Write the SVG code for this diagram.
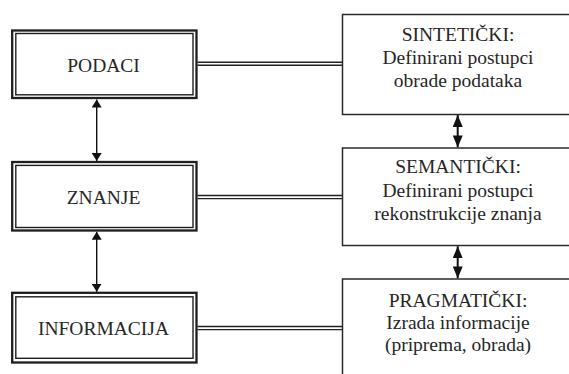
<svg xmlns="http://www.w3.org/2000/svg" width="569" height="374" viewBox="0 0 569 374">
<style>
.bg{fill:#ffffff}
.outer{fill:none;stroke:#1e1e1e;stroke-width:2.3}
.inner{fill:none;stroke:#1e1e1e;stroke-width:1.4}
.rbox{fill:#ffffff;stroke:#2a2a2a;stroke-width:1.5}
.dl{stroke:#222;stroke-width:1.4;fill:none}
.al{stroke:#111;stroke-width:1.4;fill:none}
.ar{stroke:#111;stroke-width:2;fill:none}
text{font-family:'Liberation Serif','Times New Roman','DejaVu Serif',serif;font-size:19.5px;fill:#262626;text-anchor:middle}
</style>
<defs>
<marker id="hs" viewBox="0 0 8 10" refX="8" refY="5" markerWidth="8" markerHeight="10" markerUnits="userSpaceOnUse" orient="auto-start-reverse">
<path d="M0,0 L8,5 L0,10 z" fill="#111"/>
</marker>
<marker id="hl" viewBox="0 0 12 10" refX="12" refY="5" markerWidth="12" markerHeight="10" markerUnits="userSpaceOnUse" orient="auto-start-reverse">
<path d="M0,0 L12,5 L0,10 z" fill="#111"/>
</marker>
</defs>
<rect class="bg" x="0" y="0" width="569" height="374"/>
<g id="connectors">
<line class="dl" x1="197.5" y1="62.3" x2="342" y2="62.3"/>
<line class="dl" x1="197.5" y1="65.3" x2="342" y2="65.3"/>
<line class="dl" x1="197.5" y1="195.5" x2="342" y2="195.5"/>
<line class="dl" x1="197.5" y1="198.6" x2="342" y2="198.6"/>
<line class="dl" x1="197.5" y1="326.5" x2="342" y2="326.5"/>
<line class="dl" x1="197.5" y1="329.6" x2="342" y2="329.6"/>
<line class="al" x1="96.7" y1="99.5" x2="96.7" y2="161" marker-start="url(#hs)" marker-end="url(#hs)"/>
<line class="al" x1="96.7" y1="231.8" x2="96.7" y2="291.7" marker-start="url(#hs)" marker-end="url(#hs)"/>
<line class="ar" x1="457.7" y1="115" x2="457.7" y2="147.4" marker-start="url(#hl)" marker-end="url(#hl)"/>
<line class="ar" x1="457.7" y1="246.2" x2="457.7" y2="278.4" marker-start="url(#hl)" marker-end="url(#hl)"/>
</g>
<g id="podaci">
<rect class="outer" x="12.2" y="30.5" width="184.3" height="67.5"/>
<rect class="inner" x="15.8" y="33.5" width="177.2" height="61.3"/>
<text x="103.5" y="71.5" font-family="Liberation Serif, serif">PODACI</text>
</g>
<g id="znanje">
<rect class="outer" x="12.2" y="162" width="184.3" height="68.5"/>
<rect class="inner" x="15.8" y="165.4" width="177.2" height="62.1"/>
<text x="103.5" y="204" font-family="Liberation Serif, serif">ZNANJE</text>
</g>
<g id="informacija">
<rect class="outer" x="12.2" y="292.8" width="184.3" height="69.7"/>
<rect class="inner" x="15.8" y="296.8" width="177.2" height="61.5"/>
<text x="103.5" y="335" font-family="Liberation Serif, serif">INFORMACIJA</text>
</g>
<g id="sinteticki">
<rect class="rbox" x="342.5" y="14.5" width="240" height="100"/>
<text x="458" y="40.5" font-family="Liberation Serif, serif">SINTETIČKI:</text>
<text x="458" y="63.8" font-family="Liberation Serif, serif">Definirani postupci</text>
<text x="458" y="87" font-family="Liberation Serif, serif">obrade podataka</text>
</g>
<g id="semanticki">
<rect class="rbox" x="342.5" y="148" width="240" height="97.5"/>
<text x="458" y="173.3" font-family="Liberation Serif, serif">SEMANTIČKI:</text>
<text x="458" y="196.7" font-family="Liberation Serif, serif">Definirani postupci</text>
<text x="458" y="219.5" font-family="Liberation Serif, serif">rekonstrukcije znanja</text>
</g>
<g id="pragmaticki">
<rect class="rbox" x="342.5" y="279" width="240" height="120"/>
<text x="458" y="306.5" font-family="Liberation Serif, serif">PRAGMATIČKI:</text>
<text x="458" y="329" font-family="Liberation Serif, serif">Izrada informacije</text>
<text x="458" y="351" font-family="Liberation Serif, serif">(priprema, obrada)</text>
</g>
</svg>
